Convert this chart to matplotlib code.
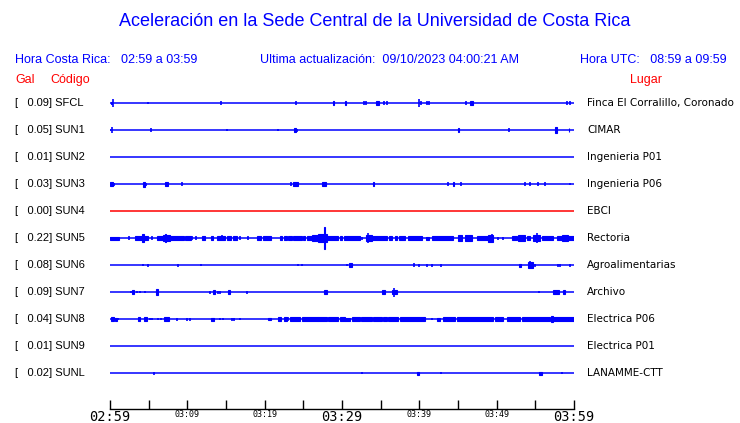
import matplotlib
matplotlib.use('Agg')
import matplotlib.pyplot as plt
import matplotlib.transforms as mtransforms

# estaciones (de arriba hacia abajo)
codigos = ['SFCL', 'SUN1', 'SUN2', 'SUN3', 'SUN4', 'SUN5', 'SUN6', 'SUN7', 'SUN8', 'SUN9', 'SUNL']
pga = [0.09, 0.05, 0.01, 0.03, 0.00, 0.22, 0.08, 0.09, 0.04, 0.01, 0.02]
lugares = ['Finca El Corralillo, Coronado', 'CIMAR', 'Ingenieria P01', 'Ingenieria P06', 'EBCI',
           'Rectoria', 'Agroalimentarias', 'Archivo', 'Electrica P06', 'Electrica P01', 'LANAMME-CTT']
color_traza = ['blue', 'blue', 'blue', 'blue', 'red', 'blue', 'blue', 'blue', 'blue', 'blue', 'blue']

ev_sfcl = [(0.13, 0.26, 0.03), (0.39, 0.39, 0.09), (4.95, 4.95, 0.02), (14.31, 14.31, 0.04),
           (24.09, 24.09, 0.04), (28.84, 29.03, 0.04), (30.39, 30.58, 0.04), (32.88, 32.88, 0.04),
           (33.06, 33.06, 0.04), (34.39, 34.78, 0.04), (35.47, 35.47, 0.04), (35.78, 35.78, 0.04),
           (39.99, 39.99, 0.075), (40.25, 40.25, 0.04), (40.95, 40.95, 0.04), (41.29, 41.29, 0.04),
           (45.99, 45.99, 0.04), (46.55, 46.9, 0.04), (59.13, 59.13, 0.04), (59.52, 59.52, 0.04)]
ev_sun1 = [(0.04, 0.04, 0.02), (0.3, 0.3, 0.055), (5.34, 5.34, 0.04), (15.17, 15.17, 0.02),
           (21.76, 21.76, 0.02), (23.79, 24.05, 0.045), (24.22, 24.22, 0.03), (45.0, 45.19, 0.04),
           (51.63, 51.63, 0.04), (57.54, 57.84, 0.055), (59.29, 59.41, 0.04)]
ev_sun2 = []
ev_sun3 = [(0.04, 0.35, 0.04), (0.56, 0.56, 0.03), (4.27, 4.49, 0.05), (4.69, 4.69, 0.03),
           (7.15, 7.46, 0.04), (9.35, 9.35, 0.04), (23.44, 23.44, 0.04), (23.66, 24.27, 0.04),
           (27.41, 27.89, 0.04), (34.0, 34.2, 0.04), (43.74, 43.74, 0.04), (44.35, 44.48, 0.04),
           (45.42, 45.42, 0.04), (53.7, 53.7, 0.04), (54.27, 54.27, 0.04), (55.38, 55.38, 0.04),
           (56.29, 56.29, 0.04), (59.52, 59.52, 0.02)]
ev_sun4 = []
ev_sun5 = [(0.0, 1.16, 0.03), (2.5, 2.5, 0.04), (3.23, 4.87, 0.04), (4.2, 4.46, 0.075),
           (5.47, 5.47, 0.04), (6.04, 6.89, 0.04), (6.89, 7.76, 0.055), (7.05, 7.18, 0.085),
           (7.76, 9.57, 0.04), (9.7, 10.47, 0.04), (10.64, 10.64, 0.04), (11.12, 11.12, 0.04),
           (11.9, 12.28, 0.04), (13.06, 13.36, 0.04), (13.8, 14.87, 0.04), (14.52, 14.52, 0.055),
           (15.09, 15.65, 0.04), (15.94, 16.42, 0.04), (16.81, 16.81, 0.04), (17.88, 17.88, 0.04),
           (19.05, 19.52, 0.04), (19.82, 20.78, 0.04), (21.98, 22.2, 0.04), (22.5, 22.85, 0.04),
           (23.06, 23.49, 0.04), (23.7, 24.79, 0.04), (24.96, 25.21, 0.04), (25.43, 26.08, 0.04),
           (26.08, 26.93, 0.065), (26.93, 28.02, 0.075), (27.67, 27.8, 0.22), (28.02, 29.52, 0.04),
           (29.74, 30.0, 0.04), (30.26, 32.33, 0.04), (32.55, 32.55, 0.03), (33.1, 33.84, 0.065),
           (33.4, 33.4, 0.1), (33.84, 35.78, 0.04), (36.08, 36.43, 0.04), (36.85, 37.07, 0.04),
           (37.41, 38.14, 0.04), (38.57, 40.3, 0.04), (40.86, 41.29, 0.03), (41.6, 44.39, 0.04),
           (45.04, 45.48, 0.065), (45.9, 46.77, 0.055), (47.42, 48.92, 0.04), (48.92, 49.56, 0.07),
           (49.35, 49.35, 0.085), (50.21, 50.21, 0.03), (50.86, 50.86, 0.03), (51.94, 52.59, 0.04),
           (52.8, 53.66, 0.055), (53.14, 53.14, 0.065), (53.88, 54.31, 0.045), (54.73, 55.6, 0.065),
           (55.17, 55.17, 0.1), (55.82, 57.32, 0.04), (57.76, 58.41, 0.045), (58.41, 59.26, 0.065),
           (59.26, 60.0, 0.04)]
ev_sun6 = [(4.31, 4.31, 0.02), (4.95, 4.95, 0.03), (8.83, 8.83, 0.03), (11.73, 11.73, 0.02),
           (24.35, 24.35, 0.02), (24.87, 24.87, 0.02), (30.68, 30.68, 0.02), (30.94, 31.25, 0.04),
           (39.35, 39.35, 0.04), (39.99, 39.99, 0.03), (41.03, 41.03, 0.03), (41.6, 41.6, 0.03),
           (42.76, 42.76, 0.03), (52.92, 53.1, 0.03), (54.09, 54.66, 0.055), (54.37, 54.37, 0.085),
           (54.95, 54.95, 0.03), (57.97, 57.97, 0.03), (58.19, 58.19, 0.03), (59.48, 59.48, 0.03)]
ev_sun7 = [(2.68, 2.68, 0.02), (2.88, 3.14, 0.04), (3.49, 3.49, 0.02), (3.84, 3.84, 0.02),
           (4.56, 4.56, 0.02), (5.95, 6.17, 0.055), (12.97, 12.97, 0.03), (13.32, 13.61, 0.04),
           (14.0, 14.0, 0.03), (14.26, 14.26, 0.03), (15.3, 15.48, 0.04), (17.75, 17.75, 0.03),
           (27.67, 28.1, 0.04), (35.17, 35.52, 0.04), (36.46, 37.07, 0.04), (36.72, 36.72, 0.09),
           (55.51, 55.51, 0.02), (57.32, 58.02, 0.04), (58.54, 58.83, 0.04)]
ev_sun8 = [(0.13, 0.52, 0.04), (0.69, 0.87, 0.03), (1.07, 1.07, 0.02), (3.66, 3.84, 0.04),
           (4.44, 4.75, 0.04), (5.17, 5.17, 0.02), (5.47, 5.47, 0.02), (6.25, 6.25, 0.02),
           (6.59, 6.59, 0.02), (6.94, 7.63, 0.04), (8.7, 8.7, 0.03), (10.0, 10.0, 0.03),
           (10.38, 10.38, 0.03), (13.06, 13.41, 0.03), (14.22, 14.22, 0.02), (14.65, 14.65, 0.02),
           (15.74, 15.74, 0.03), (15.99, 15.99, 0.03), (16.85, 16.85, 0.02), (20.47, 20.78, 0.02),
           (21.76, 22.07, 0.04), (22.5, 22.85, 0.04), (23.06, 23.06, 0.04), (23.27, 24.57, 0.04),
           (24.79, 26.93, 0.04), (26.93, 28.02, 0.04), (28.15, 29.52, 0.04), (29.74, 30.39, 0.04),
           (30.39, 31.03, 0.03), (31.25, 32.33, 0.04), (32.46, 33.88, 0.04), (34.0, 35.13, 0.04),
           (35.34, 35.78, 0.04), (35.99, 37.28, 0.04), (37.5, 40.73, 0.04), (39.31, 39.31, 0.05),
           (41.6, 41.6, 0.02), (42.32, 42.67, 0.03), (43.02, 44.61, 0.04), (44.83, 49.56, 0.04),
           (49.78, 50.86, 0.04), (51.29, 53.02, 0.04), (53.23, 56.9, 0.04), (57.09, 57.28, 0.065),
           (57.32, 60.0, 0.04)]
ev_sun9 = []
ev_sunl = [(5.73, 5.73, 0.03), (32.62, 32.62, 0.02), (39.66, 39.92, 0.03), (42.84, 42.84, 0.02),
           (55.47, 55.86, 0.03), (58.41, 58.41, 0.02)]
eventos = [ev_sfcl, ev_sun1, ev_sun2, ev_sun3, ev_sun4, ev_sun5, ev_sun6, ev_sun7, ev_sun8, ev_sun9, ev_sunl]

ticks_min = [0, 5, 10, 15, 20, 25, 30, 35, 40, 45, 50, 55, 60]
ticks_lbl = ['02:59', '', '03:09', '', '03:19', '', '03:29', '', '03:39', '', '03:49', '', '03:59']
ticks_big = ['02:59', '03:29', '03:59']

escala = 1.85  # filas por Gal

fig = plt.figure(figsize=(7.4, 4.23), dpi=100)
ax = fig.add_axes([110 / 740, 14 / 423, 464 / 740, 319 / 423])

for i, evs in enumerate(eventos):
    ax.hlines(i, 0, 60, colors=color_traza[i], linewidth=1.1)
    for t0, t1, a in evs:
        if t1 > t0:
            ax.bar(t0, 2 * a * escala, width=t1 - t0, bottom=i - a * escala, align='edge',
                   color='blue', edgecolor='blue', linewidth=0.8)
        else:
            ax.vlines(t0, i - a * escala, i + a * escala, colors='blue', linewidth=1.2)

ax.set_xlim(0, 60)
ax.set_ylim(11.333, -0.4815)
for s in ['top', 'left', 'right']:
    ax.spines[s].set_visible(False)
ax.spines['bottom'].set_linewidth(1)
ax.set_yticks([])
ax.set_xticks(ticks_min)
ax.set_xticklabels(ticks_lbl, family='DejaVu Sans Mono')
ax.tick_params(axis='x', direction='in', length=6.5, width=1, pad=1)
for lbl in ax.get_xticklabels():
    lbl.set_fontsize(9.8 if lbl.get_text() in ticks_big else 6)

trans = mtransforms.blended_transform_factory(fig.transFigure, ax.transData)
for i in range(len(codigos)):
    ax.text(15 / 740, i, '[   %.2f] %s' % (pga[i], codigos[i]), transform=trans,
            va='center', ha='left', fontsize=8, family='Liberation Sans')
    ax.text(587 / 740, i, lugares[i], transform=trans, va='center', ha='left',
            fontsize=7.5, family='DejaVu Sans')

fig.text(375 / 740, 1 - 22 / 423, 'Aceleración en la Sede Central de la Universidad de Costa Rica',
         ha='center', va='center', fontsize=13, color='blue', family='Liberation Sans')
fig.text(15 / 740, 1 - 60 / 423, 'Hora Costa Rica:   02:59 a 03:59', ha='left', va='center',
         fontsize=9, color='blue', family='Liberation Sans')
fig.text(260 / 740, 1 - 60 / 423, 'Ultima actualización:  09/10/2023 04:00:21 AM', ha='left',
         va='center', fontsize=9, color='blue', family='Liberation Sans')
fig.text(580 / 740, 1 - 60 / 423, 'Hora UTC:   08:59 a 09:59', ha='left', va='center',
         fontsize=9, color='blue', family='Liberation Sans')
fig.text(15 / 740, 1 - 80 / 423, 'Gal', ha='left', va='center', fontsize=9, color='red',
         family='Liberation Sans')
fig.text(50 / 740, 1 - 80 / 423, 'Código', ha='left', va='center', fontsize=9, color='red',
         family='Liberation Sans')
fig.text(646 / 740, 1 - 80 / 423, 'Lugar', ha='center', va='center', fontsize=9, color='red',
         family='Liberation Sans')

plt.savefig('out.png', dpi=100)
